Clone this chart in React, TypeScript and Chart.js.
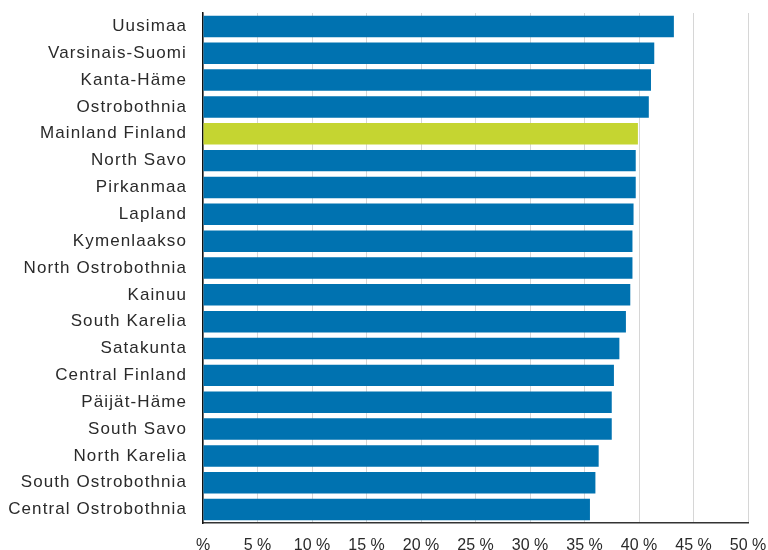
import React, { useEffect, useRef } from "react";
import { Chart, registerables } from "chart.js";

Chart.register(...registerables);

const regions: string[] = [
  "Uusimaa",
  "Varsinais-Suomi",
  "Kanta-Häme",
  "Ostrobothnia",
  "Mainland Finland",
  "North Savo",
  "Pirkanmaa",
  "Lapland",
  "Kymenlaakso",
  "North Ostrobothnia",
  "Kainuu",
  "South Karelia",
  "Satakunta",
  "Central Finland",
  "Päijät-Häme",
  "South Savo",
  "North Karelia",
  "South Ostrobothnia",
  "Central Ostrobothnia",
];

const shares: number[] = [
  43.2, 41.4, 41.1, 40.9, 39.9, 39.7, 39.7, 39.5, 39.4, 39.4, 39.2, 38.8,
  38.2, 37.7, 37.5, 37.5, 36.3, 36.0, 35.5,
];

const highlighted = "Mainland Finland";
const xMin = 0;
const xMax = 50;
const xStep = 5;

const BLUE = "#0072B0";
const GREEN = "#C5D531";

export default function App() {
  const ref = useRef<HTMLCanvasElement | null>(null);

  useEffect(() => {
    if (!ref.current) return;
    const chart = new Chart(ref.current, {
      type: "bar",
      data: {
        labels: regions,
        datasets: [
          {
            data: shares,
            backgroundColor: regions.map((r) => (r === highlighted ? GREEN : BLUE)),
            borderWidth: 0,
            barPercentage: 0.8,
            categoryPercentage: 1,
          },
        ],
      },
      options: {
        indexAxis: "y",
        responsive: false,
        animation: false,
        layout: { padding: { top: 13, right: 20, left: 0, bottom: 0 } },
        plugins: {
          legend: { display: false },
          tooltip: { enabled: false },
        },
        scales: {
          x: {
            min: xMin,
            max: xMax,
            ticks: {
              stepSize: xStep,
              padding: 13,
              color: "#2a2a2a",
              font: { family: "'Liberation Sans', Arial, sans-serif", size: 16 },
              maxRotation: 0,
              autoSkip: false,
              callback: (v: any) => (Number(v) === 0 ? "%" : `${v} %`),
            },
            grid: { color: "#d6d6d6", lineWidth: 1, drawTicks: false },
            border: { display: true, color: "#333", width: 1.5 },
            afterFit: (scale: any) => {
              scale.height = 27;
              scale.paddingLeft = 0;
              scale.paddingRight = 0;
            },
          },
          y: {
            ticks: {
              padding: 16,
              color: "#2a2a2a",
              font: { family: "'Liberation Sans', Arial, sans-serif", size: 17 },
              autoSkip: false,
            },
            grid: { display: false, drawTicks: false },
            border: { display: true, color: "#111", width: 1.5 },
            afterFit: (scale: any) => {
              scale.width = 203;
              scale.paddingTop = 0;
              scale.paddingBottom = 0;
              if (!scale.__patched) {
                const orig = scale.drawLabels.bind(scale);
                scale.drawLabels = (area: any) => {
                  const ctx = scale.ctx as any;
                  ctx.save();
                  ctx.letterSpacing = "1.1px";
                  orig(area);
                  ctx.restore();
                };
                scale.__patched = true;
              }
            },
          },
        },
      },
    });
    return () => chart.destroy();
  }, []);

  return (
    <div style={{ position: "absolute", left: 0, top: 0, width: 768, height: 550, background: "#fff" }}>
      <canvas ref={ref} width={768} height={550} />
    </div>
  );
}
